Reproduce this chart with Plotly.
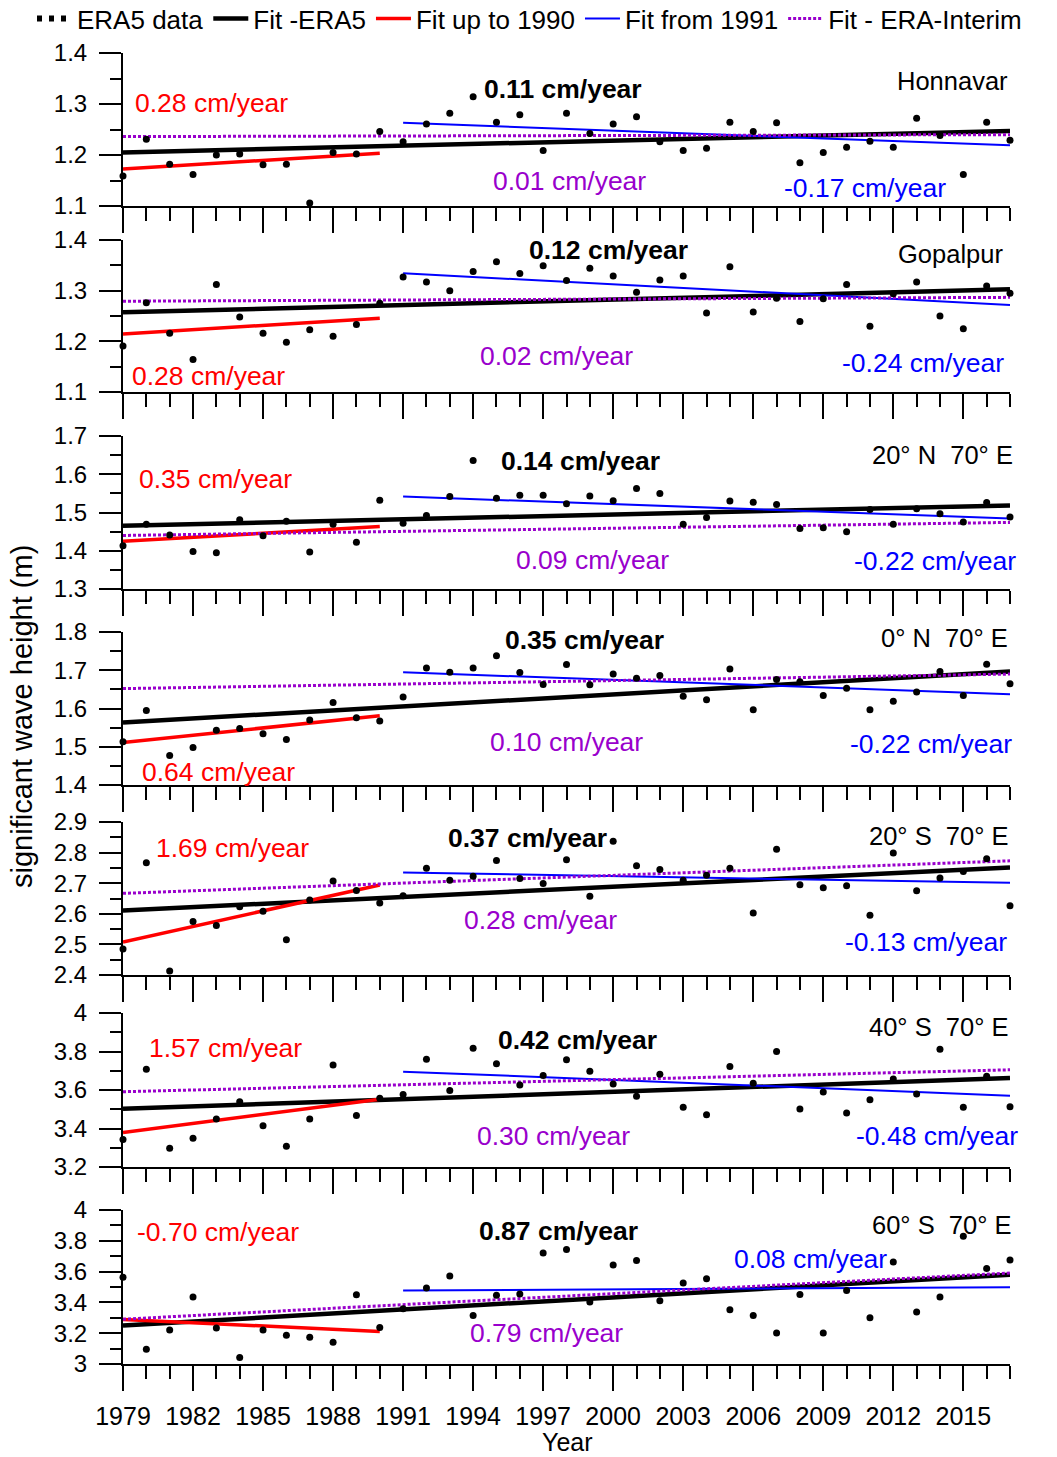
import plotly.graph_objects as go

# ---------------------------------------------------------------- data
years = list(range(1979, 2018))

honnavar = [1.159, 1.231, 1.182, 1.162, 1.200, 1.202, 1.181, 1.182, 1.106, 1.205,
            1.202, 1.246, 1.226, 1.261, 1.282, 1.314, 1.264, 1.279, 1.209, 1.282,
            1.242, 1.261, 1.275, 1.226, 1.209, 1.213, 1.264, 1.246, 1.263, 1.185,
            1.205, 1.215, 1.227, 1.215, 1.272, 1.238, 1.162, 1.264, 1.229]
gopalpur = [1.191, 1.276, 1.216, 1.164, 1.312, 1.248, 1.216, 1.198, 1.223, 1.210,
            1.233, 1.275, 1.327, 1.317, 1.300, 1.338, 1.357, 1.334, 1.349, 1.320,
            1.344, 1.329, 1.297, 1.321, 1.329, 1.256, 1.347, 1.258, 1.285, 1.239,
            1.284, 1.312, 1.230, 1.294, 1.317, 1.250, 1.225, 1.309, 1.295]
n20_e70 = [1.413, 1.469, 1.441, 1.398, 1.395, 1.481, 1.439, 1.477, 1.397, 1.469,
           1.422, 1.532, 1.472, 1.492, 1.542, 1.636, 1.537, 1.545, 1.545, 1.523,
           1.543, 1.531, 1.563, 1.550, 1.469, 1.487, 1.530, 1.527, 1.521, 1.458,
           1.460, 1.450, 1.508, 1.469, 1.510, 1.497, 1.475, 1.526, 1.488]
n0_e70 = [1.513, 1.595, 1.477, 1.498, 1.543, 1.548, 1.534, 1.519, 1.570, 1.616,
          1.576, 1.567, 1.630, 1.706, 1.695, 1.706, 1.738, 1.694, 1.663, 1.715,
          1.662, 1.690, 1.679, 1.686, 1.632, 1.623, 1.703, 1.597, 1.676, 1.670,
          1.634, 1.653, 1.597, 1.619, 1.643, 1.697, 1.634, 1.716, 1.665]
s20_e70 = [2.485, 2.767, 2.413, 2.575, 2.562, 2.623, 2.608, 2.515, 2.645, 2.707,
           2.676, 2.635, 2.659, 2.749, 2.710, 2.723, 2.774, 2.715, 2.699, 2.777,
           2.657, 2.837, 2.757, 2.745, 2.710, 2.726, 2.749, 2.603, 2.811, 2.695,
           2.685, 2.692, 2.595, 2.799, 2.675, 2.717, 2.738, 2.780, 2.626]
s40_e70 = [3.343, 3.708, 3.297, 3.350, 3.450, 3.539, 3.414, 3.308, 3.450, 3.730,
           3.468, 3.557, 3.577, 3.760, 3.597, 3.817, 3.736, 3.626, 3.675, 3.757,
           3.697, 3.631, 3.567, 3.682, 3.510, 3.471, 3.722, 3.635, 3.800, 3.501,
           3.590, 3.480, 3.550, 3.657, 3.579, 3.812, 3.510, 3.671, 3.513]
s60_e70 = [3.563, 3.096, 3.220, 3.435, 3.233, 3.043, 3.220, 3.187, 3.174, 3.141,
           3.450, 3.237, 3.359, 3.493, 3.572, 3.315, 3.446, 3.454, 3.720, 3.743,
           3.402, 3.643, 3.672, 3.411, 3.526, 3.554, 3.352, 3.315, 3.202, 3.452,
           3.202, 3.478, 3.300, 3.663, 3.337, 3.435, 3.830, 3.620, 3.676]

site_names = ["Honnavar", "Gopalpur", "20° N  70° E", "0° N  70° E",
              "20° S  70° E", "40° S  70° E", "60° S  70° E"]

# linear trends (cm/year)
trend_era5 = [0.11, 0.12, 0.14, 0.35, 0.37, 0.42, 0.87]
trend_to_1990 = [0.28, 0.28, 0.35, 0.64, 1.69, 1.57, -0.70]
trend_from_1991 = [-0.17, -0.24, -0.22, -0.22, -0.13, -0.48, 0.08]
trend_interim = [0.01, 0.02, 0.09, 0.10, 0.28, 0.30, 0.79]

# fitted wave height (m) at the middle of each fitting window
level_era5 = [1.226, 1.280, 1.492, 1.630, 2.681, 3.582, 3.415]
level_to_1990 = [1.188, 1.230, 1.444, 1.546, 2.601, 3.466, 3.250]
level_from_1991 = [1.241, 1.303, 1.513, 1.666, 2.718, 3.633, 3.488]
level_interim = [1.238, 1.283, 1.457, 1.671, 2.720, 3.648, 3.441]

# y-axis ranges and label steps (m)
y_ranges = [(1.1, 1.4), (1.1, 1.4), (1.3, 1.7), (1.4, 1.8),
            (2.4, 2.9), (3.2, 4.0), (3.0, 4.0)]
y_steps = [0.1, 0.1, 0.1, 0.1, 0.1, 0.2, 0.2]

series = [honnavar, gopalpur, n20_e70, n0_e70, s20_e70, s40_e70, s60_e70]

# ---------------------------------------------------------------- layout
W, H = 1057, 1457
ML, MR, MT, MB = 123, 47, 53, 93
PW, PH = W - ML - MR, H - MT - MB

FONT = "Liberation Sans, Arial, sans-serif"
RED, BLUE, PURPLE = "#FF0000", "#0000FF", "#9900CC"

# vertical pixel extent of each panel (top, bottom)
panel_px = [(53, 206), (240, 392), (436, 589), (632, 785),
            (822, 975), (1013, 1167), (1210, 1364)]


def px(xp, yp):
    """pixel position -> paper coordinates"""
    return (xp - ML) / PW, 1 - (yp - MT) / PH


def fit_line(level, slope_cm, x0, x1):
    xm = (x0 + x1) / 2
    xs = [x0, x1]
    return xs, [level + slope_cm / 100 * (x - xm) for x in xs]


fig = go.Figure()

for i in range(7):
    n = "" if i == 0 else str(i + 1)
    xa, ya = "x" + n, "y" + n

    xs, ys = fit_line(level_era5[i], trend_era5[i], 1979, 2017)
    fig.add_trace(go.Scatter(x=xs, y=ys, mode="lines", xaxis=xa, yaxis=ya,
                             line=dict(color="black", width=4.5),
                             name="Fit -ERA5", legendgroup="era5",
                             showlegend=(i == 0), legendrank=2))
    xs, ys = fit_line(level_to_1990[i], trend_to_1990[i], 1979, 1990)
    fig.add_trace(go.Scatter(x=xs, y=ys, mode="lines", xaxis=xa, yaxis=ya,
                             line=dict(color=RED, width=3.5),
                             name="Fit up to 1990", legendgroup="pre",
                             showlegend=(i == 0), legendrank=3))
    xs, ys = fit_line(level_from_1991[i], trend_from_1991[i], 1991, 2017)
    fig.add_trace(go.Scatter(x=xs, y=ys, mode="lines", xaxis=xa, yaxis=ya,
                             line=dict(color=BLUE, width=2),
                             name="Fit from 1991", legendgroup="post",
                             showlegend=(i == 0), legendrank=4))
    xs, ys = fit_line(level_interim[i], trend_interim[i], 1979, 2017)
    fig.add_trace(go.Scatter(x=xs, y=ys, mode="lines", xaxis=xa, yaxis=ya,
                             line=dict(color=PURPLE, width=3, dash="3px,2px"),
                             name="Fit - ERA-Interim", legendgroup="interim",
                             showlegend=(i == 0), legendrank=5))
    fig.add_trace(go.Scatter(x=years, y=series[i], mode="markers",
                             xaxis=xa, yaxis=ya, cliponaxis=False,
                             marker=dict(color="black", size=7),
                             name="ERA5 data", legendgroup="data",
                             showlegend=False))

    top, bot = panel_px[i]
    y0 = 1 - (bot - MT) / PH
    y1 = 1 - (top - MT) / PH
    last = i == 6
    fig.layout["xaxis" + n] = dict(
        domain=[0, 1], anchor=ya, range=[1979, 2017],
        showline=True, linecolor="black", linewidth=2,
        ticks="outside", tickmode="linear", tick0=1979, dtick=3,
        ticklen=25, tickwidth=1.6, tickcolor="black",
        minor=dict(ticks="outside", dtick=1, tick0=1979, ticklen=13,
                   tickwidth=1.6, tickcolor="black"),
        showgrid=False, zeroline=False, showticklabels=last,
        ticklabelstandoff=4,
        tickfont=dict(family=FONT, size=25, color="black"),
    )
    lo, hi = y_ranges[i]
    fig.layout["yaxis" + n] = dict(
        domain=[y0, y1], anchor=xa, range=[lo, hi],
        showline=True, linecolor="black", linewidth=2,
        ticks="outside", tickmode="linear", tick0=lo, dtick=y_steps[i],
        ticklen=22, tickwidth=1.6, tickcolor="black",
        minor=dict(ticks="outside", dtick=y_steps[i] / 2, ticklen=11,
                   tickwidth=1.6, tickcolor="black"),
        showgrid=False, zeroline=False, ticklabelstandoff=7,
        tickfont=dict(family=FONT, size=24, color="black"),
    )

# legend entry for the yearly values, drawn as a row of dots
fig.add_trace(go.Scatter(x=[None], y=[None], mode="lines",
                         line=dict(color="black", width=6, dash="5px,7px"),
                         name="ERA5 data", legendrank=1))

# ---------------------------------------------------------------- labels
pos_to_1990 = [(211, 103), (208, 376), (215, 479), (218, 772),
               (232, 848), (225, 1048), (218, 1232)]
pos_era5 = [(563, 89), (608, 250), (580, 461), (584, 640),
            (527, 838), (577, 1040), (558, 1231)]
pos_from_1991 = [(865, 188), (923, 363), (935, 561), (931, 744),
                 (926, 942), (937, 1136), (810, 1259)]
pos_interim = [(569, 181), (556, 356), (592, 560), (566, 742),
               (540, 920), (553, 1136), (546, 1333)]
pos_site = [(1010, 81), (1005, 254), (1015, 455), (1010, 638),
            (1010, 836), (1010, 1027), (1013, 1225)]

annotations = []


def add_text(text, xy, color, size=26.5, xanchor="center", yanchor="middle", **kw):
    x, y = px(*xy)
    annotations.append(dict(text=text, x=x, y=y, xref="paper", yref="paper",
                            xanchor=xanchor, yanchor=yanchor, showarrow=False,
                            font=dict(family=FONT, size=size, color=color), **kw))


for i in range(7):
    add_text(f"{trend_to_1990[i]:.2f} cm/year", pos_to_1990[i], RED)
    add_text(f"<b>{trend_era5[i]:.2f} cm/year</b>", pos_era5[i], "black")
    add_text(f"{trend_from_1991[i]:.2f} cm/year", pos_from_1991[i], BLUE)
    add_text(f"{trend_interim[i]:.2f} cm/year", pos_interim[i], PURPLE)
    add_text(site_names[i], pos_site[i], "black", size=25.5, xanchor="right")

add_text("significant wave height (m)", (22, 717), "black", size=29, textangle=-90)
add_text("Year", (567, 1458), "black", size=25, yanchor="bottom")

fig.update_layout(
    width=W, height=H,
    margin=dict(l=ML, r=MR, t=MT, b=MB, autoexpand=False),
    paper_bgcolor="white", plot_bgcolor="white",
    font=dict(family=FONT, size=24, color="black"),
    annotations=annotations,
    legend=dict(orientation="h", x=px(32, 0)[0], y=px(0, -5)[1],
                xanchor="left", yanchor="top",
                font=dict(family=FONT, size=26, color="black"),
                itemwidth=35, tracegroupgap=0, bgcolor="rgba(0,0,0,0)"),
)

fig.write_html("out.html")
